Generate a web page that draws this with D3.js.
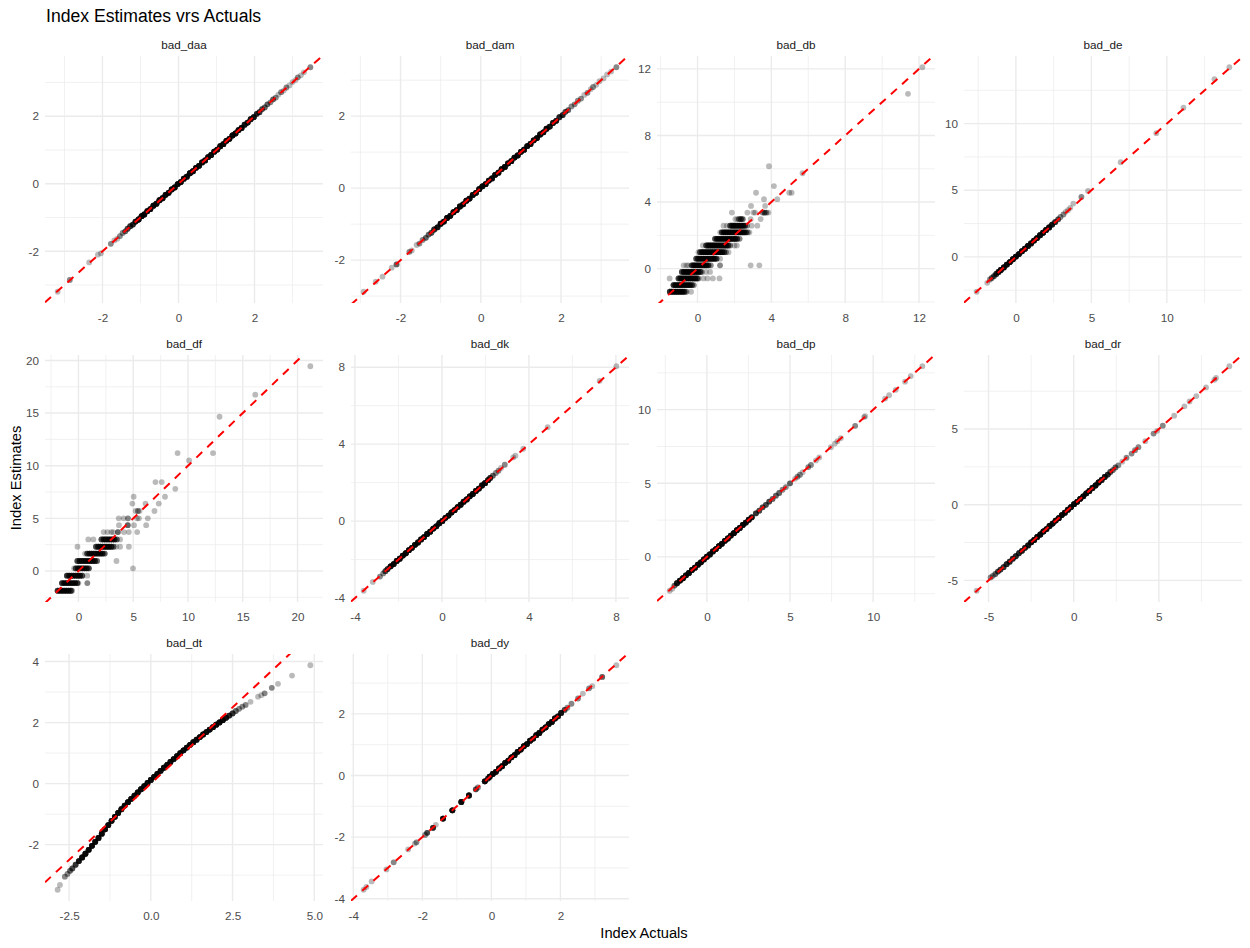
<!DOCTYPE html>
<html>
<head>
<meta charset="utf-8">
<script src="https://cdn.jsdelivr.net/npm/d3@7"></script>
<style>
  body { margin: 0; background: #fff; }
  svg { display: block; font-family: "Liberation Sans", Arial, sans-serif; }
</style>
</head>
<body>
<div id="grafico"></div>
<script>
// Dados: [actual, estimate, número de observações no mesmo ponto]
const daaPts = [
  [-3.18,-3.2,1],[-2.86,-2.85,2],[-2.35,-2.33,1],[-2.12,-2.1,1],[-2.04,-2.06,1],
  [-1.78,-1.78,2],[-1.69,-1.68,1],[-1.61,-1.63,1],[-1.54,-1.55,2],[-1.47,-1.46,2],
  [-1.4,-1.41,3],[-1.34,-1.33,4],[-1.27,-1.26,5],[-1.2,-1.21,6],[-1.13,-1.12,8],
  [-1.05,-1.06,10],[-0.97,-0.96,10],[-0.9,-0.91,10],[-0.82,-0.81,10],[-0.74,-0.75,10],
  [-0.66,-0.65,10],[-0.58,-0.59,10],[-0.5,-0.49,10],[-0.42,-0.43,10],[-0.34,-0.33,10],
  [-0.26,-0.27,10],[-0.18,-0.17,10],[-0.1,-0.11,10],[-0.02,-0.01,10],[0.06,0.05,10],
  [0.14,0.15,10],[0.22,0.21,10],[0.3,0.31,10],[0.38,0.37,10],[0.46,0.47,10],
  [0.54,0.53,10],[0.62,0.63,10],[0.7,0.69,10],[0.78,0.79,10],[0.86,0.85,10],
  [0.94,0.95,10],[1.02,1.01,10],[1.1,1.11,10],[1.18,1.17,10],[1.26,1.27,10],
  [1.34,1.33,10],[1.42,1.43,10],[1.5,1.49,10],[1.58,1.59,10],[1.66,1.65,10],
  [1.74,1.75,8],[1.82,1.81,8],[1.9,1.91,8],[1.98,1.97,8],[2.06,2.07,6],
  [2.13,2.12,5],[2.2,2.21,4],[2.27,2.26,3],[2.34,2.35,3],[2.42,2.41,2],
  [2.49,2.5,3],[2.56,2.55,2],[2.63,2.64,1],[2.7,2.71,2],[2.77,2.76,1],
  [2.84,2.85,2],[2.92,2.91,1],[3.0,3.01,1],[3.08,3.07,1],[3.14,3.15,2],
  [3.22,3.21,1],[3.3,3.3,1],[3.47,3.45,2]
];
const damPts = [
  [-2.92,-2.88,1],[-2.62,-2.6,1],[-2.45,-2.46,1],[-2.22,-2.21,1],[-2.1,-2.12,3],
  [-1.78,-1.77,2],[-1.72,-1.73,1],[-1.6,-1.58,1],[-1.53,-1.54,2],[-1.45,-1.44,2],
  [-1.37,-1.38,3],[-1.3,-1.29,3],[-1.23,-1.24,4],[-1.16,-1.15,6],[-1.08,-1.09,8],
  [-1.0,-0.99,10],[-0.92,-0.93,10],[-0.84,-0.83,10],[-0.76,-0.77,10],[-0.68,-0.67,10],
  [-0.6,-0.61,10],[-0.52,-0.51,10],[-0.44,-0.45,10],[-0.36,-0.35,10],[-0.28,-0.29,10],
  [-0.2,-0.19,10],[-0.12,-0.13,10],[-0.04,-0.03,10],[0.04,0.05,10],[0.12,0.11,10],
  [0.2,0.21,10],[0.28,0.27,10],[0.36,0.37,10],[0.44,0.43,10],[0.52,0.53,10],
  [0.6,0.59,10],[0.68,0.69,10],[0.76,0.75,10],[0.84,0.85,10],[0.92,0.91,10],
  [1.0,1.01,10],[1.08,1.07,10],[1.16,1.17,10],[1.24,1.23,10],[1.32,1.33,10],
  [1.4,1.39,10],[1.48,1.49,10],[1.56,1.55,10],[1.64,1.65,10],[1.72,1.71,8],
  [1.8,1.81,8],[1.88,1.87,8],[1.96,1.97,6],[2.04,2.03,6],[2.11,2.12,4],
  [2.18,2.17,3],[2.26,2.27,2],[2.34,2.33,2],[2.42,2.43,2],[2.5,2.49,2],
  [2.58,2.59,1],[2.66,2.65,2],[2.74,2.75,1],[2.8,2.81,2],[2.88,2.87,1],
  [2.96,2.97,1],[3.06,3.05,1],[3.15,3.16,1],[3.25,3.24,1],[3.38,3.36,2]
];
const dbPts = [
  [-1.5,-1.39,5],[-1.4,-1.39,5],[-1.3,-1.39,5],[-1.2,-1.39,5],[-1.1,-1.39,5],[-1.0,-1.39,5],
  [-0.9,-1.39,5],[-0.8,-1.39,5],[-0.7,-1.39,4],[-0.6,-1.39,2],[-0.35,-1.39,1],
  [-1.3,-0.99,5],[-1.2,-0.99,5],[-1.1,-0.99,5],[-1.0,-0.99,5],[-0.9,-0.99,5],[-0.8,-0.99,5],
  [-0.7,-0.99,5],[-0.6,-0.99,5],[-0.5,-0.99,5],[-0.4,-0.99,5],[-0.3,-0.99,4],[-0.2,-0.99,2],
  [-1.51,-0.59,1],[-1.03,-0.59,4],[-0.93,-0.59,5],[-0.83,-0.59,5],[-0.73,-0.59,5],[-0.63,-0.59,5],
  [-0.53,-0.59,5],[-0.43,-0.59,5],[-0.33,-0.59,5],[-0.23,-0.59,5],[-0.13,-0.59,5],[-0.03,-0.59,4],
  [0.05,-0.59,2],[0.32,-0.59,1],[0.54,-0.59,1],[0.83,-0.59,1],[1.19,-0.59,1],
  [-0.85,-0.2,4],[-0.75,-0.2,5],[-0.65,-0.2,5],[-0.55,-0.2,5],[-0.45,-0.2,5],[-0.35,-0.2,5],
  [-0.25,-0.2,5],[-0.15,-0.2,5],[-0.05,-0.2,5],[0.05,-0.2,5],[0.15,-0.2,4],[0.23,-0.2,2],
  [0.46,-0.2,1],[0.68,-0.2,1],
  [-0.75,0.2,1],[-0.6,0.2,1],[-0.5,0.2,1],[-0.31,0.2,4],[-0.21,0.2,5],[-0.11,0.2,5],[-0.01,0.2,5],
  [0.09,0.2,5],[0.19,0.2,5],[0.29,0.2,5],[0.39,0.2,5],[0.49,0.2,5],[0.59,0.2,4],[0.72,0.2,2],
  [1.22,0.2,2],[2.88,0.2,1],[3.35,0.2,1],
  [-0.07,0.6,4],[0.03,0.6,5],[0.13,0.6,5],[0.23,0.6,5],[0.33,0.6,5],[0.43,0.6,5],[0.53,0.6,5],
  [0.63,0.6,5],[0.73,0.6,5],[0.83,0.6,5],[0.93,0.6,5],[1.03,0.6,4],[1.22,0.6,1],
  [0.05,0.99,1],[0.14,0.99,4],[0.24,0.99,5],[0.34,0.99,5],[0.44,0.99,5],[0.54,0.99,5],[0.64,0.99,5],
  [0.74,0.99,5],[0.84,0.99,5],[0.94,0.99,5],[1.04,0.99,5],[1.14,0.99,5],[1.24,0.99,5],[1.34,0.99,5],
  [1.44,0.99,4],[1.54,0.99,2],[1.68,0.99,1],
  [0.29,1.39,1],[0.47,1.39,4],[0.57,1.39,5],[0.67,1.39,5],[0.77,1.39,5],[0.87,1.39,5],[0.97,1.39,5],
  [1.07,1.39,5],[1.17,1.39,5],[1.27,1.39,5],[1.37,1.39,5],[1.47,1.39,5],[1.57,1.39,5],[1.67,1.39,4],
  [1.77,1.39,2],[2.0,1.39,1],[2.13,1.39,1],
  [0.95,1.79,4],[1.05,1.79,5],[1.15,1.79,5],[1.25,1.79,5],[1.35,1.79,5],[1.45,1.79,5],[1.55,1.79,5],
  [1.65,1.79,5],[1.75,1.79,5],[1.85,1.79,5],[1.95,1.79,5],[2.05,1.79,5],[2.15,1.79,4],[2.28,1.79,2],
  [1.23,2.18,1],[1.32,2.18,4],[1.42,2.18,5],[1.52,2.18,5],[1.62,2.18,5],[1.72,2.18,5],[1.82,2.18,5],
  [1.92,2.18,5],[2.02,2.18,5],[2.12,2.18,5],[2.22,2.18,5],[2.32,2.18,5],[2.42,2.18,5],[2.52,2.18,5],
  [2.62,2.18,4],[2.72,2.18,2],[2.81,2.18,1],
  [1.41,2.58,1],[1.59,2.58,1],[1.77,2.58,4],[1.87,2.58,5],[1.97,2.58,5],[2.07,2.58,5],[2.17,2.58,5],
  [2.27,2.58,5],[2.37,2.58,5],[2.47,2.58,5],[2.57,2.58,4],[2.68,2.58,2],[2.93,2.58,1],[3.24,2.58,1],
  [2.05,2.98,1],[2.16,2.98,1],[2.25,2.98,3],[2.35,2.98,4],[2.45,2.98,3],[2.88,2.98,1],[3.42,2.98,1],
  [1.86,3.37,1],[2.7,3.37,1],[3.03,3.37,1],[3.12,3.37,1],[3.53,3.37,2],[3.63,3.37,3],[3.73,3.37,2],[3.84,3.37,1],
  [2.9,3.77,1],[3.66,3.77,1],
  [3.6,4.17,1],[4.32,4.17,1],
  [3.17,4.56,1],[4.97,4.56,1],[5.1,4.56,1],
  [4.14,4.96,1],[5.69,5.73,1],[3.87,6.15,1],[11.4,10.5,1],[12.18,12.1,1]
];
const dePts = [
  [-2.6,-2.62,1],[-1.9,-1.95,1],[-1.72,-1.7,2],[-1.6,-1.58,3],[-1.45,-1.44,4],
  [-1.3,-1.28,6],[-1.15,-1.13,8],[-1.0,-0.98,10],[-0.8,-0.79,10],[-0.6,-0.58,10],
  [-0.4,-0.39,10],[-0.2,-0.18,10],[0.0,0.02,10],[0.2,0.21,10],[0.4,0.42,10],
  [0.6,0.61,10],[0.8,0.82,10],[1.0,1.01,10],[1.2,1.22,10],[1.4,1.41,10],
  [1.6,1.62,10],[1.8,1.81,10],[2.0,2.02,10],[2.2,2.21,10],[2.4,2.42,8],
  [2.6,2.61,6],[2.8,2.82,4],[2.95,3.0,2],[3.15,3.18,2],[3.3,3.38,1],
  [3.45,3.5,1],[3.6,3.68,1],[3.8,4.0,1],[4.34,4.5,2],[4.78,4.95,1],
  [6.94,7.1,1],[9.3,9.28,1],[11.1,11.19,1],[13.15,13.34,1],[14.14,14.23,1]
];
const dfPts = [
  [-1.9,-1.88,5],[-1.7,-1.88,5],[-1.5,-1.88,5],[-1.3,-1.88,5],[-1.1,-1.88,5],[-0.9,-1.88,5],[-0.7,-1.88,4],[-0.6,-1.88,2],
  [-1.5,-1.15,5],[-1.3,-1.15,5],[-1.1,-1.15,5],[-0.9,-1.15,5],[-0.7,-1.15,5],[-0.5,-1.15,5],[-0.3,-1.15,5],[-0.1,-1.15,4],[0.0,-1.15,1],[0.81,-1.15,2],
  [-1.05,-0.45,5],[-0.85,-0.45,5],[-0.65,-0.45,5],[-0.45,-0.45,5],[-0.25,-0.45,5],[-0.05,-0.45,5],[0.15,-0.45,5],[0.35,-0.45,4],[0.8,-0.45,1],
  [-0.4,0.25,1],[-0.25,0.25,4],[-0.05,0.25,5],[0.15,0.25,5],[0.35,0.25,5],[0.55,0.25,5],[0.75,0.25,5],[0.95,0.25,4],[4.98,0.25,1],
  [-0.1,0.95,4],[0.1,0.95,5],[0.3,0.95,5],[0.5,0.95,5],[0.7,0.95,5],[0.9,0.95,5],[1.1,0.95,5],[1.3,0.95,5],[1.5,0.95,5],[1.7,0.95,3],[3.47,0.95,1],
  [0.6,1.65,1],[0.8,1.65,4],[1.0,1.65,5],[1.2,1.65,5],[1.4,1.65,5],[1.6,1.65,5],[1.8,1.65,5],[2.0,1.65,5],[2.2,1.65,5],[2.4,1.65,3],
  [-0.09,2.3,1],[1.6,2.3,4],[1.8,2.3,5],[2.0,2.3,5],[2.2,2.3,5],[2.4,2.3,5],[2.6,2.3,5],[2.8,2.3,5],[3.0,2.3,5],[3.2,2.3,3],[3.45,2.3,1],[3.8,2.3,1],[4.6,2.3,1],
  [0.9,3.0,1],[1.36,3.0,1],[2.1,3.0,4],[2.3,3.0,5],[2.5,3.0,5],[2.7,3.0,5],[2.9,3.0,5],[3.1,3.0,5],[3.3,3.0,5],[3.5,3.0,3],[3.8,3.0,1],
  [2.3,3.7,1],[2.65,3.7,1],[3.0,3.7,1],[3.17,3.7,1],[3.6,3.7,3],[4.15,3.7,1],[4.6,3.7,1],[5.36,3.7,1],
  [3.7,4.35,1],[4.5,4.35,3],[5.07,4.35,1],[6.18,4.35,1],
  [3.68,5.0,1],[4.13,5.0,1],[4.52,5.0,2],[5.34,5.0,1],[5.52,5.0,1],[6.33,5.0,1],
  [5.22,5.7,1],[5.43,5.7,2],[5.58,5.7,1],[6.94,5.7,1],
  [4.92,6.4,1],[6.12,6.4,1],[7.33,6.4,1],
  [5.04,7.05,1],[7.9,7.05,1],[8.84,7.8,1],[7.03,8.45,1],[7.6,8.45,1],
  [10.1,10.5,1],[9.05,11.2,1],[12.28,11.2,1],[12.88,14.65,1],[16.14,16.75,1],[21.17,19.45,1]
];
const dkPts = [
  [-3.6,-3.62,1],[-3.18,-3.16,1],[-2.85,-2.88,2],[-2.7,-2.72,2],[-2.6,-2.6,4],
  [-2.5,-2.49,6],[-2.36,-2.35,10],[-2.22,-2.23,10],[-2.08,-2.07,10],[-1.94,-1.95,10],
  [-1.8,-1.79,10],[-1.66,-1.67,10],[-1.52,-1.51,10],[-1.38,-1.39,10],[-1.24,-1.23,10],
  [-1.1,-1.11,10],[-0.96,-0.95,10],[-0.82,-0.83,10],[-0.68,-0.67,10],[-0.54,-0.55,10],
  [-0.4,-0.39,10],[-0.26,-0.27,10],[-0.12,-0.11,10],[0.02,0.01,10],[0.16,0.17,10],
  [0.3,0.29,10],[0.44,0.45,10],[0.58,0.57,10],[0.72,0.73,10],[0.86,0.85,10],
  [1.0,1.01,10],[1.14,1.13,10],[1.28,1.29,10],[1.42,1.41,10],[1.56,1.57,10],
  [1.7,1.69,10],[1.84,1.85,10],[1.98,1.97,10],[2.12,2.13,8],[2.22,2.24,6],
  [2.34,2.36,3],[2.48,2.5,2],[2.6,2.62,2],[2.72,2.76,1],[2.89,2.93,2],
  [3.28,3.31,1],[3.38,3.4,1],[3.74,3.76,1],[4.86,4.88,1],[7.25,7.29,1],[8.02,8.05,1]
];
const dpPts = [
  [-2.24,-2.3,1],[-2.08,-2.17,1],[-1.95,-1.95,3],[-1.8,-1.79,8],[-1.62,-1.61,10],
  [-1.44,-1.45,10],[-1.26,-1.25,10],[-1.08,-1.09,10],[-0.9,-0.89,10],[-0.72,-0.73,10],
  [-0.54,-0.53,10],[-0.36,-0.37,10],[-0.18,-0.17,10],[0.0,0.01,10],[0.18,0.17,10],
  [0.36,0.37,10],[0.54,0.53,10],[0.72,0.73,10],[0.9,0.89,10],[1.08,1.09,10],
  [1.26,1.25,10],[1.44,1.45,10],[1.62,1.61,10],[1.8,1.81,10],[1.98,1.97,10],
  [2.16,2.17,10],[2.34,2.33,10],[2.52,2.53,10],[2.7,2.69,8],[2.95,2.96,5],
  [3.15,3.14,4],[3.35,3.36,4],[3.55,3.54,4],[3.75,3.76,4],[3.95,3.94,3],
  [4.15,4.16,3],[4.35,4.34,3],[4.55,4.56,2],[4.75,4.74,2],[5.0,5.0,3],
  [5.3,5.3,1],[5.45,5.45,2],[5.6,5.58,2],[5.76,5.75,1],[6.1,6.1,2],
  [6.26,6.25,2],[6.56,6.55,1],[6.76,6.75,1],[7.46,7.45,1],[7.7,7.7,1],
  [7.85,7.86,1],[8.06,8.07,1],[8.92,8.9,2],[9.46,9.5,1],[9.52,9.56,1],
  [10.72,10.75,1],[10.96,10.98,1],[11.36,11.35,1],[11.92,11.9,1],[12.26,12.28,1],[12.96,12.95,1]
];
const drPts = [
  [-5.7,-5.69,1],[-4.88,-4.81,2],[-4.75,-4.7,2],[-4.6,-4.58,3],[-4.45,-4.42,4],
  [-4.3,-4.29,5],[-4.12,-4.13,5],[-3.94,-3.93,6],[-3.76,-3.77,6],[-3.58,-3.57,6],
  [-3.4,-3.41,6],[-3.22,-3.21,6],[-3.04,-3.05,7],[-2.86,-2.85,7],[-2.68,-2.69,8],
  [-2.5,-2.49,10],[-2.32,-2.33,10],[-2.14,-2.13,10],[-1.96,-1.97,10],[-1.78,-1.77,10],
  [-1.6,-1.61,10],[-1.42,-1.41,10],[-1.24,-1.25,10],[-1.06,-1.05,10],[-0.88,-0.89,10],
  [-0.7,-0.69,10],[-0.52,-0.53,10],[-0.34,-0.33,10],[-0.16,-0.17,10],[0.02,0.03,10],
  [0.2,0.19,10],[0.38,0.39,10],[0.56,0.55,10],[0.74,0.75,10],[0.92,0.91,10],
  [1.1,1.11,10],[1.28,1.27,10],[1.46,1.47,10],[1.64,1.63,8],[1.82,1.83,8],
  [2.0,1.99,6],[2.15,2.16,4],[2.3,2.29,3],[2.45,2.46,3],[2.62,2.6,2],
  [2.85,2.84,1],[3.1,3.1,2],[3.4,3.38,2],[3.6,3.6,2],[3.8,3.8,2],
  [4.2,4.2,1],[4.69,4.7,2],[4.9,4.88,1],[5.23,5.22,2],[5.9,5.88,1],
  [6.5,6.5,1],[6.8,6.82,1],[7.2,7.18,1],[7.77,7.75,1],[8.26,8.25,1],[8.36,8.38,1],[9.14,9.15,1]
];
const dtPts = [
  [-2.85,-3.48,1],[-2.78,-3.32,1],[-2.63,-3.05,2],[-2.55,-2.96,2],[-2.47,-2.86,3],
  [-2.4,-2.78,4],[-2.3,-2.66,5],[-2.2,-2.54,8],[-2.1,-2.42,10],[-2.0,-2.3,10],
  [-1.9,-2.17,10],[-1.8,-2.04,10],[-1.7,-1.91,10],[-1.6,-1.78,10],[-1.5,-1.64,10],
  [-1.4,-1.5,10],[-1.3,-1.36,10],[-1.2,-1.22,10],[-1.1,-1.09,10],[-1.0,-0.96,10],
  [-0.9,-0.84,10],[-0.8,-0.72,10],[-0.7,-0.61,10],[-0.6,-0.5,10],[-0.5,-0.395,10],
  [-0.4,-0.29,10],[-0.3,-0.185,10],[-0.2,-0.08,10],[-0.1,0.02,10],[0.0,0.12,10],
  [0.1,0.22,10],[0.2,0.32,10],[0.3,0.42,10],[0.4,0.52,10],[0.5,0.615,10],
  [0.6,0.71,10],[0.7,0.805,10],[0.8,0.9,10],[0.9,0.995,10],[1.0,1.09,10],
  [1.1,1.18,10],[1.2,1.27,10],[1.3,1.355,10],[1.4,1.44,10],[1.5,1.525,10],
  [1.6,1.61,10],[1.7,1.69,10],[1.8,1.77,10],[1.9,1.85,10],[2.0,1.93,10],
  [2.1,2.005,10],[2.2,2.08,10],[2.3,2.155,8],[2.4,2.23,6],[2.5,2.3,5],
  [2.6,2.38,3],[2.7,2.45,2],[2.8,2.52,2],[2.9,2.58,2],[3.05,2.68,1],
  [3.28,2.85,1],[3.38,2.9,1],[3.48,2.96,2],[3.7,3.14,2],[3.89,3.27,1],
  [4.32,3.54,1],[4.88,3.88,1]
];
const dyPts = [
  [-3.7,-3.71,1],[-3.62,-3.62,1],[-3.47,-3.44,1],[-3.04,-3.05,1],[-2.83,-2.82,2],
  [-2.41,-2.4,1],[-2.22,-2.21,1],[-2.17,-2.17,2],[-1.92,-1.93,2],[-1.86,-1.86,4],
  [-1.69,-1.7,6],[-1.61,-1.6,1],[-1.4,-1.4,10],[-1.13,-1.13,10],[-0.87,-0.86,10],
  [-0.65,-0.65,10],[-0.45,-0.45,4],[-0.39,-0.39,2],[-0.19,-0.19,10],[-0.1,-0.1,6],
  [-0.05,-0.04,10],[0.04,0.05,10],[0.13,0.12,10],[0.22,0.23,10],[0.31,0.3,10],
  [0.4,0.41,10],[0.49,0.48,10],[0.58,0.59,10],[0.67,0.66,10],[0.76,0.77,10],
  [0.85,0.84,10],[0.94,0.95,10],[1.03,1.02,10],[1.12,1.13,10],[1.21,1.2,10],
  [1.3,1.31,10],[1.39,1.38,10],[1.48,1.49,10],[1.57,1.56,10],[1.66,1.67,10],
  [1.75,1.74,10],[1.84,1.85,10],[1.93,1.92,8],[2.02,2.03,8],[2.12,2.13,4],
  [2.2,2.2,2],[2.32,2.33,2],[2.51,2.5,2],[2.65,2.66,1],[2.83,2.83,2],
  [2.92,2.9,1],[3.21,3.2,3],[3.62,3.58,1]
];

// Nomes dos painéis e marcas dos eixos
const panelNames = ["bad_daa","bad_dam","bad_db","bad_de","bad_df","bad_dk","bad_dp","bad_dr","bad_dt","bad_dy"];
const panelPoints = [daaPts, damPts, dbPts, dePts, dfPts, dkPts, dpPts, drPts, dtPts, dyPts];
const xTicks = [[-2,0,2],[-2,0,2],[0,4,8,12],[0,5,10],[0,5,10,15,20],[-4,0,4,8],[0,5,10],[-5,0,5],[-2.5,0,2.5,5],[-4,-2,0,2]];
const yTicks = [[-2,0,2],[-2,0,2],[0,4,8,12],[0,5,10],[0,5,10,15,20],[-4,0,4,8],[0,5,10],[-5,0,5],[-2,0,2,4],[-4,-2,0,2]];

// Layout das facetas
const colLeft = [45, 351, 657, 964];
const rowTop = [56, 355, 654];
const panelW = 278, panelH = 247;

const svg = d3.select("#grafico")
  .append("svg")
    .attr("width", 1250)
    .attr("height", 948);

svg.append("rect").attr("width", 1250).attr("height", 948).attr("fill", "#fff");

// formata como o R (hífen, uma casa decimal se preciso)
function fmt(ticks) {
  const dec = ticks.some(t => t % 1 !== 0);
  return v => dec ? v.toFixed(1) : String(v);
}

// quebras menores entre as maiores, como no ggplot
function minors(ticks, domain) {
  const step = ticks[1] - ticks[0];
  const ext = [ticks[0] - step, ...ticks, ticks[ticks.length - 1] + step];
  const out = [];
  for (let k = 0; k < ext.length - 1; k++) out.push((ext[k] + ext[k + 1]) / 2);
  return out.filter(v => v >= domain[0] && v <= domain[1]);
}

panelNames.forEach((name, i) => {
  const col = i % 4, row = Math.floor(i / 4);
  const left = colLeft[col], top = rowTop[row];
  const pts = panelPoints[i];

  const xe = d3.extent(pts, d => d[0]);
  const ye = d3.extent(pts, d => d[1]);
  const xp = (xe[1] - xe[0]) * 0.05, yp = (ye[1] - ye[0]) * 0.05;

  const x = d3.scaleLinear().domain([xe[0] - xp, xe[1] + xp]).range([left, left + panelW]);
  const y = d3.scaleLinear().domain([ye[0] - yp, ye[1] + yp]).range([top + panelH, top]);

  const g = svg.append("g");

  // grade menor
  g.selectAll(".xminor").data(minors(xTicks[i], x.domain())).enter().append("line")
    .attr("x1", d => x(d)).attr("x2", d => x(d)).attr("y1", top).attr("y2", top + panelH)
    .attr("stroke", "#EBEBEB").attr("stroke-width", 0.7);
  g.selectAll(".yminor").data(minors(yTicks[i], y.domain())).enter().append("line")
    .attr("y1", d => y(d)).attr("y2", d => y(d)).attr("x1", left).attr("x2", left + panelW)
    .attr("stroke", "#EBEBEB").attr("stroke-width", 0.7);

  // grade maior
  const xt = xTicks[i].filter(v => v >= x.domain()[0] && v <= x.domain()[1]);
  const yt = yTicks[i].filter(v => v >= y.domain()[0] && v <= y.domain()[1]);
  g.selectAll(".xmajor").data(xt).enter().append("line")
    .attr("x1", d => x(d)).attr("x2", d => x(d)).attr("y1", top).attr("y2", top + panelH)
    .attr("stroke", "#EBEBEB").attr("stroke-width", 1.4);
  g.selectAll(".ymajor").data(yt).enter().append("line")
    .attr("y1", d => y(d)).attr("y2", d => y(d)).attr("x1", left).attr("x2", left + panelW)
    .attr("stroke", "#EBEBEB").attr("stroke-width", 1.4);

  // clip do painel
  svg.append("clipPath").attr("id", "clip" + i)
    .append("rect").attr("x", left).attr("y", top).attr("width", panelW).attr("height", panelH);

  const plot = g.append("g").attr("clip-path", "url(#clip" + i + ")");

  // pontos (cada observação é um círculo semitransparente)
  const obs = pts.flatMap(p => d3.range(p[2]).map(() => p));
  plot.selectAll("circle").data(obs).enter().append("circle")
    .attr("cx", d => x(d[0]))
    .attr("cy", d => y(d[1]))
    .attr("r", 2.9)
    .attr("fill", "#000")
    .attr("fill-opacity", 0.27);

  // linha y = x
  const xd = x.domain();
  plot.append("line")
    .attr("x1", x(xd[0])).attr("y1", y(xd[0]))
    .attr("x2", x(xd[1])).attr("y2", y(xd[1]))
    .attr("stroke", "red").attr("stroke-width", 2)
    .attr("stroke-dasharray", "8,7");

  // eixos
  const xa = g.append("g").attr("transform", "translate(0," + (top + panelH) + ")")
    .call(d3.axisBottom(x).tickValues(xt).tickSize(0).tickPadding(11).tickFormat(fmt(xTicks[i])));
  const ya = g.append("g").attr("transform", "translate(" + left + ",0)")
    .call(d3.axisLeft(y).tickValues(yt).tickSize(0).tickPadding(6).tickFormat(fmt(yTicks[i])));
  [xa, ya].forEach(a => {
    a.select(".domain").remove();
    a.attr("font-family", null).attr("font-size", null);
    a.selectAll("text").attr("fill", "#4D4D4D").style("font-size", "11.7px");
  });

  // faixa com o nome
  svg.append("text")
    .attr("x", left + panelW / 2)
    .attr("y", top - 7)
    .attr("text-anchor", "middle")
    .attr("fill", "#1A1A1A")
    .style("font-size", "11.7px")
    .text(name);
});

// títulos
svg.append("text")
  .attr("x", 46).attr("y", 22)
  .style("font-size", "17.6px")
  .attr("fill", "#000")
  .text("Index Estimates vrs Actuals");

svg.append("text")
  .attr("x", 644).attr("y", 938)
  .attr("text-anchor", "middle")
  .style("font-size", "14.7px")
  .text("Index Actuals");

svg.append("text")
  .attr("transform", "translate(21,478) rotate(-90)")
  .attr("text-anchor", "middle")
  .style("font-size", "14.7px")
  .text("Index Estimates");
</script>
</body>
</html>
